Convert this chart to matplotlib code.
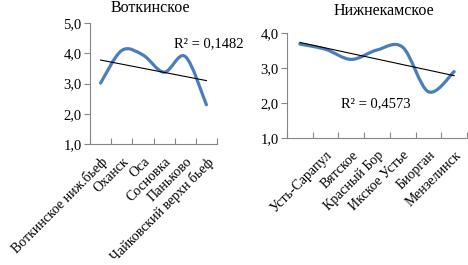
import matplotlib
matplotlib.use('Agg')
import matplotlib.pyplot as plt
from matplotlib.path import Path
from matplotlib.patches import PathPatch
import matplotlib.transforms as mtransforms
import numpy as np

plt.rcParams['font.family'] = ['Liberation Serif', 'DejaVu Serif']

# данные
votk_names = ['Воткинское ниж.бьеф', 'Оханск', 'Оса', 'Сосновка', 'Паньково',
              'Чайковский верхн бьеф']
votk_vals = [3.02, 4.1, 3.95, 3.38, 3.9, 2.3]
votk_r2 = 'R² = 0,1482'

nizh_names = ['', 'Усть-Сарапул', 'Вятское', 'Красный Бор', 'Икское Устье',
              'Биорган', 'Мензелинск']
nizh_vals = [3.69, 3.54, 3.25, 3.52, 3.6, 2.32, 2.90]
nizh_r2 = 'R² = 0,4573'

LINE = '#4A7EBB'
GRID = '#868686'


def smooth_path(xs, ys):
    # сглаженная линия как в Excel: кривые Безье по точкам
    pts = np.column_stack([xs, ys])
    n = len(pts)
    verts = [pts[0]]
    codes = [Path.MOVETO]
    for i in range(n - 1):
        p0 = pts[max(i - 1, 0)]
        p1 = pts[i]
        p2 = pts[i + 1]
        p3 = pts[min(i + 2, n - 1)]
        verts += [p1 + (p2 - p0) / 6, p2 - (p3 - p1) / 6, p2]
        codes += [Path.CURVE4] * 3
    return Path(verts, codes)


def panel(ax, names, vals, r2, r2_pos, ylim, yticks):
    x = np.arange(1, len(vals) + 1)
    ax.add_patch(PathPatch(smooth_path(x, vals), fill=False, edgecolor=LINE,
                           linewidth=2.3, capstyle='round', joinstyle='round'))
    k, b = np.polyfit(x, vals, 1)
    ax.plot([x[0], x[-1]], [k * x[0] + b, k * x[-1] + b], color='black',
            linewidth=0.8)
    ax.set_xlim(0.5, len(vals) + 0.5)
    ax.set_ylim(*ylim)
    ax.set_yticks(yticks)
    ax.set_yticklabels([('%.1f' % t).replace('.', ',') for t in yticks],
                       fontsize=10.5)
    ax.set_xticks(x)
    ax.set_xticklabels(names, rotation=45, ha='right', rotation_mode='anchor',
                       fontsize=10)
    shift = mtransforms.ScaledTranslation(2 / 100, 0, ax.figure.dpi_scale_trans)
    for lab in ax.get_xticklabels():
        lab.set_transform(lab.get_transform() + shift)
    ax.set_xticks(np.arange(0.5, len(vals) + 1), minor=True)
    ax.tick_params(axis='x', which='major', length=0, pad=8)
    ax.tick_params(axis='x', which='minor', direction='in', length=4,
                   color=GRID, width=0.8)
    ax.tick_params(axis='y', direction='out', length=4, color=GRID,
                   width=0.8, pad=2)
    for s in ['top', 'right']:
        ax.spines[s].set_visible(False)
    for s in ['left', 'bottom']:
        ax.spines[s].set_color(GRID)
        ax.spines[s].set_linewidth(0.8)
    ax.text(r2_pos[0], r2_pos[1], r2, fontsize=10.5, transform=ax.transAxes,
            ha='left', va='center')


fig = plt.figure(figsize=(4.68, 2.65), dpi=100)
ax1 = fig.add_axes([90 / 468, 121 / 265, 127 / 468, 120.7 / 265])
ax2 = fig.add_axes([287 / 468, 127.3 / 265, 180 / 468, 104.4 / 265])

panel(ax1, votk_names, votk_vals, votk_r2, (0.66, 0.83),
      (1, 5), [1, 2, 3, 4, 5])
panel(ax2, nizh_names, nizh_vals, nizh_r2, (0.30, 0.33),
      (1, 4), [1, 2, 3, 4])

fig.text(150 / 468, 1 - 8 / 265, 'Воткинское', fontsize=11.5,
         ha='center', va='center')
fig.text(384 / 468, 1 - 11 / 265, 'Нижнекамское', fontsize=11.5,
         ha='center', va='center')

fig.savefig('out.png', dpi=100)
